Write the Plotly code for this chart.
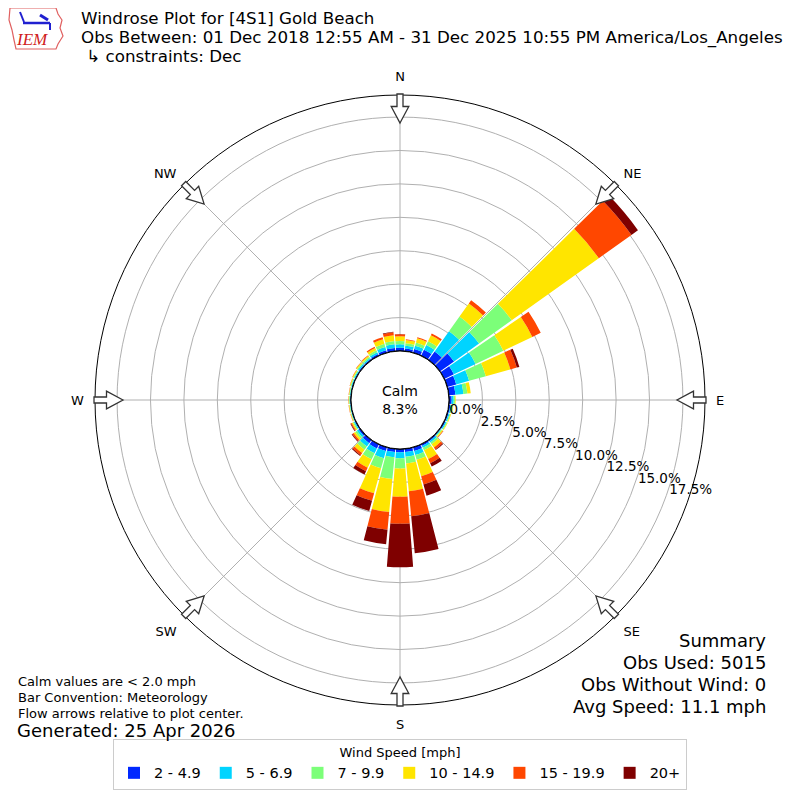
import numpy as np
import plotly.graph_objects as go

# wind direction bins (degrees, meteorological convention)
directions = list(range(0, 360, 10))

speed_bins = ["2 - 4.9", "5 - 6.9", "7 - 9.9", "10 - 14.9", "15 - 19.9", "20+"]
bin_colors = ["#0028ff", "#00d4ff", "#7cff79", "#ffe500", "#ff4700", "#7f0000"]

# percent of observations per direction for each speed bin
pct_2_5 = [0.25, 0.20, 0.30, 0.50, 0.80, 1.30, 0.80, 0.70, 0.50, 0.20, 0.12, 0.10,
           0.10, 0.06, 0.12, 0.15, 0.30, 0.25, 0.25, 0.25, 0.30, 0.35, 0.30, 0.15,
           0.08, 0.05, 0.05, 0.05, 0.05, 0.06, 0.07, 0.10, 0.10, 0.15, 0.20, 0.25]
pct_5_7 = [0.25, 0.22, 0.25, 0.40, 1.85, 2.30, 1.80, 1.00, 0.60, 0.15, 0.10, 0.08,
           0.08, 0.06, 0.13, 0.15, 0.30, 0.35, 0.45, 0.39, 0.55, 0.40, 0.30, 0.15,
           0.08, 0.05, 0.05, 0.05, 0.05, 0.06, 0.07, 0.10, 0.10, 0.15, 0.25, 0.27]
pct_7_10 = [0.25, 0.18, 0.25, 0.30, 1.35, 3.00, 2.30, 1.30, 0.30, 0.10, 0.08, 0.07,
            0.07, 0.08, 0.15, 0.20, 0.38, 0.50, 0.75, 1.64, 0.79, 0.50, 0.30, 0.15,
            0.08, 0.04, 0.04, 0.05, 0.05, 0.06, 0.07, 0.09, 0.10, 0.15, 0.25, 0.25]
pct_10_15 = [0.35, 0.25, 0.32, 0.50, 1.20, 8.00, 2.40, 1.90, 0.25, 0.05, 0.05, 0.05,
             0.05, 0.08, 0.30, 0.73, 1.27, 2.10, 2.12, 2.48, 1.94, 0.70, 0.30, 0.15,
             0.09, 0.04, 0.04, 0.03, 0.03, 0.05, 0.06, 0.08, 0.10, 0.20, 0.35, 0.43]
pct_15_20 = [0.15, 0.05, 0.08, 0.15, 0.30, 3.00, 0.70, 0.50, 0.00, 0.00, 0.00, 0.00,
             0.00, 0.04, 0.18, 0.34, 0.65, 1.87, 2.03, 1.32, 0.58, 0.29, 0.20, 0.12,
             0.07, 0.02, 0.02, 0.02, 0.02, 0.02, 0.03, 0.03, 0.04, 0.09, 0.15, 0.22]
pct_20 = [0.02, 0.00, 0.00, 0.00, 0.00, 0.60, 0.00, 0.20, 0.00, 0.00, 0.00, 0.00,
          0.00, 0.01, 0.06, 0.28, 0.86, 2.78, 3.25, 1.09, 0.79, 0.26, 0.07, 0.06,
          0.05, 0.00, 0.00, 0.00, 0.00, 0.00, 0.00, 0.00, 0.00, 0.00, 0.00, 0.05]

calm_pct = 8.3
compass_vals = [0, 45, 90, 135, 180, 225, 270, 315]
compass_text = ["N", "NE", "E", "SE", "S", "SW", "W", "NW"]
ring_vals = [0, 2.5, 5, 7.5, 10, 12.5, 15, 17.5]

series = [pct_2_5, pct_5_7, pct_7_10, pct_10_15, pct_15_20, pct_20]

# page is 800px, the html body adds an 8px margin
OFF = 8
W = 800 - OFF
CX, CY = 400, 400
R_OUT, R_HOLE = 305, 49
RAD_ANGLE = -20


def px(x):
    return (x - OFF) / W


def py(y):
    return 1 - (y - OFF) / W


fig = go.Figure()
for name, color, vals in zip(speed_bins, bin_colors, series):
    fig.add_trace(go.Barpolar(
        r=vals, theta=directions, width=9,
        name=name, marker=dict(color=color, line=dict(width=0)),
        hoverinfo="skip",
    ))

# black edge of the calm circle
fig.add_trace(go.Scatterpolar(
    r=[0] * 361, theta=list(range(361)), mode="lines",
    line=dict(color="black", width=1.3), showlegend=False,
    hoverinfo="skip", cliponaxis=False,
))

# flow arrows on the rim, pointing to the centre
shapes = []
for a in compass_vals:
    t = np.radians(a)
    u = np.array([np.sin(t), -np.cos(t)])
    v = np.array([np.cos(t), np.sin(t)])
    pts = [(277, 0), (293.5, 8.8), (293.5, 3), (306, 3), (306, -3), (293.5, -3), (293.5, -8.8)]
    path = ""
    for i, (rr, ww) in enumerate(pts):
        p = np.array([CX, CY]) + rr * u + ww * v
        path += ("M" if i == 0 else "L") + f"{px(p[0]):.5f},{py(p[1]):.5f} "
    path += "Z"
    shapes.append(dict(type="path", path=path, xref="paper", yref="paper",
                       line=dict(color="#333333", width=1.3), fillcolor="white", layer="above"))

# rough IEM logo
iowa = [(10, 8), (56, 8), (58, 14), (62, 20), (60, 28), (63, 36), (58, 44), (56, 49),
        (16, 49), (14, 40), (12, 30), (9, 20), (10, 8)]
shapes.append(dict(type="path", xref="paper", yref="paper",
                   path="M" + " L".join(f"{px(x):.5f},{py(y):.5f}" for x, y in iowa) + " Z",
                   line=dict(color="#e06060", width=1.2), fillcolor="white"))
shapes.append(dict(type="line", xref="paper", yref="paper", x0=px(23), y0=py(23), x1=px(50), y1=py(23),
                   line=dict(color="#2020d0", width=2.5)))
shapes.append(dict(type="line", xref="paper", yref="paper", x0=px(20), y0=py(12), x1=px(24), y1=py(22),
                   line=dict(color="#2020d0", width=2)))
shapes.append(dict(type="line", xref="paper", yref="paper", x0=px(40), y0=py(15), x1=px(48), y1=py(20),
                   line=dict(color="#2020d0", width=3)))
shapes.append(dict(type="line", xref="paper", yref="paper", x0=px(50), y0=py(23), x1=px(50), y1=py(30),
                   line=dict(color="#2020d0", width=2)))

annotations = [
    dict(text="Windrose Plot for [4S1] Gold Beach", x=px(79), y=py(18)),
    dict(text="Obs Between: 01 Dec 2018 12:55 AM - 31 Dec 2025 10:55 PM America/Los_Angeles", x=px(79), y=py(37)),
    dict(text=" ↳ constraints: Dec", x=px(79), y=py(56)),
    dict(text="<i>IEM</i>", x=px(14), y=py(39), font=dict(family="Liberation Serif", size=17, color="#d02020")),
    dict(text="Calm values are < 2.0 mph", x=px(16), y=py(681), font=dict(size=13)),
    dict(text="Bar Convention: Meteorology", x=px(16), y=py(697), font=dict(size=13)),
    dict(text="Flow arrows relative to plot center.", x=px(16), y=py(713), font=dict(size=13)),
    dict(text="Generated: 25 Apr 2026", x=px(15), y=py(730), font=dict(size=18)),
    dict(text="Summary", x=px(768), y=py(640), xanchor="right", font=dict(size=18)),
    dict(text="Obs Used: 5015", x=px(768), y=py(662), xanchor="right", font=dict(size=18)),
    dict(text="Obs Without Wind: 0", x=px(768), y=py(684), xanchor="right", font=dict(size=18)),
    dict(text="Avg Speed: 11.1 mph", x=px(768), y=py(706), xanchor="right", font=dict(size=18)),
    dict(text=f"Calm<br>{calm_pct}%", x=px(CX), y=py(CY), xanchor="center", font=dict(size=14)),
]
for ann in annotations:
    ann.setdefault("xanchor", "left")
    ann.setdefault("yanchor", "middle")
    ann.setdefault("font", dict(size=16.7))
    ann.update(xref="paper", yref="paper", showarrow=False)

fig.update_layout(
    width=W, height=W,
    margin=dict(l=0, r=0, t=0, b=0),
    paper_bgcolor="white",
    font=dict(family="DejaVu Sans", size=13, color="black"),
    polar=dict(
        domain=dict(x=[px(CX - R_OUT), px(CX + R_OUT)], y=[py(CY + R_OUT), py(CY - R_OUT)]),
        hole=R_HOLE / R_OUT,
        bgcolor="white",
        barmode="stack",
        angularaxis=dict(
            direction="clockwise", rotation=90,
            tickmode="array", tickvals=compass_vals, ticktext=compass_text,
            showline=True, linecolor="black", linewidth=1,
            showgrid=True, gridcolor="#b0b0b0", gridwidth=1,
            ticks="outside", ticklen=8, tickcolor="rgba(0,0,0,0)",
            tickfont=dict(size=13),
        ),
        radialaxis=dict(
            range=[0, 19.15], tickmode="array", tickvals=ring_vals,
            ticktext=[f"{v:.1f}%" for v in ring_vals], tickangle=RAD_ANGLE,
            angle=RAD_ANGLE, side="counterclockwise",
            showline=False, ticks="", showgrid=True, gridcolor="#b0b0b0", gridwidth=1,
            tickfont=dict(size=13.5),
        ),
    ),
    legend=dict(
        orientation="h", x=px(400), xanchor="center", y=py(790), yanchor="bottom",
        title=dict(text="Wind Speed [mph]", side="top center", font=dict(size=13)),
        bordercolor="#cccccc", borderwidth=1, bgcolor="white",
        font=dict(size=14.5),
    ),
    shapes=shapes,
    annotations=annotations,
)

fig.write_html("out.html")
